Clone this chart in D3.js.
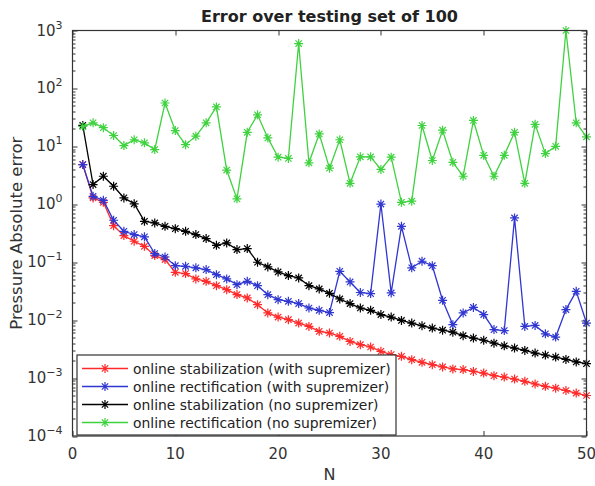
<!DOCTYPE html>
<html>
<head>
<meta charset="utf-8">
<script src="https://cdn.jsdelivr.net/npm/d3@7"></script>
<style>
  body { margin: 0; background: #fff; }
  svg { display: block; font-family: "DejaVu Sans", sans-serif; }
</style>
</head>
<body>
<div id="chart"></div>
<script>
const WIDTH = 595
const HEIGHT = 486

// values, N = 1..50
const N = d3.range(1, 51)

const stabWith = [4.85, 1.29, 1.08, 0.428, 0.288, 0.23, 0.188, 0.13, 0.111, 0.067,
    0.0636, 0.0514, 0.0468, 0.0394, 0.0336, 0.0276, 0.0242, 0.0185, 0.0133, 0.0113,
    0.0102, 0.0089, 0.0078, 0.0064, 0.006, 0.00525, 0.0043, 0.00377, 0.00344, 0.00289,
    0.00254, 0.00237, 0.00208, 0.00187, 0.0017, 0.00156, 0.00144, 0.0014, 0.0013, 0.00122,
    0.0011, 0.00104, 0.00096, 0.00088, 0.00079, 0.00072, 0.00067, 0.00061, 0.00055, 0.0005]

const rectWith = [4.85, 1.37, 1.17, 0.53, 0.342, 0.3, 0.274, 0.141, 0.123, 0.087,
    0.085, 0.08, 0.0745, 0.061, 0.0514, 0.041, 0.0468, 0.0394, 0.0275, 0.0226,
    0.0211, 0.0193, 0.0162, 0.0148, 0.0135, 0.0697, 0.0456, 0.03, 0.0287, 1.01,
    0.0295, 0.417, 0.08, 0.104, 0.087, 0.022, 0.00835, 0.0133, 0.0166, 0.0125,
    0.00686, 0.0066, 0.582, 0.0078, 0.0081, 0.0058, 0.0051, 0.0152, 0.0314, 0.0089]

const stabNo = [23, 2.19, 3.05, 2.05, 1.29, 1.02, 0.508, 0.477, 0.417, 0.38,
    0.342, 0.3, 0.256, 0.196, 0.215, 0.165, 0.172, 0.0998, 0.083, 0.068,
    0.0587, 0.0535, 0.0394, 0.0346, 0.029, 0.0232, 0.0193, 0.0162, 0.0148, 0.0125,
    0.0113, 0.0099, 0.0089, 0.008, 0.0073, 0.0067, 0.0062, 0.0054, 0.0049, 0.0045,
    0.004, 0.0036, 0.0033, 0.003, 0.0027, 0.0025, 0.0023, 0.0021, 0.0019, 0.00177]

const rectNo = [22, 25.5, 21, 15.4, 10.3, 13, 11.5, 8.8, 56, 18.7,
    10.7, 15, 25.5, 48, 3.9, 1.24, 17.5, 35, 14, 6.5,
    6.2, 595, 5.2, 16.4, 4.2, 13, 2.3, 6.6, 6.6, 4.0,
    6.5, 1.08, 1.13, 22.9, 5.7, 19, 5.3, 3.05, 28, 7.0,
    3.05, 7, 17.5, 2.3, 24, 7.5, 10, 1000, 25.5, 14.6]

const seriesNames = [
    "online stabilization (with supremizer)",
    "online rectification (with supremizer)",
    "online stabilization (no supremizer)",
    "online rectification (no supremizer)"
]
const seriesColors = ["#ff2a2a", "#3036d0", "#000000", "#3fd23f"]
const seriesValues = [stabWith, rectWith, stabNo, rectNo]

const xTicks = [0, 10, 20, 30, 40, 50]
const yExponents = [-4, -3, -2, -1, 0, 1, 2, 3]

const margin = {top: 30.5, right: 8.5, bottom: 50, left: 72.5}
const plotW = WIDTH - margin.left - margin.right
const plotH = HEIGHT - margin.top - margin.bottom

const svg = d3.select("#chart").append("svg")
    .attr("width", WIDTH)
    .attr("height", HEIGHT)

const x = d3.scaleLinear().domain([0, 50]).range([0, plotW])
const y = d3.scaleLog().domain([1e-4, 1e3]).range([plotH, 0])

const g = svg.append("g")
    .attr("transform", `translate(${margin.left},${margin.top})`)

// ticks, inward on all four sides
const minorVals = []
yExponents.slice(0, -1).forEach(e => {
    for (let k = 2; k <= 9; k++) minorVals.push(k * Math.pow(10, e))
})

const tickG = g.append("g").attr("stroke", "#333").attr("stroke-width", 1)
yExponents.forEach(e => {
    const yy = Math.round(y(Math.pow(10, e))) + 0.5
    tickG.append("line").attr("x1", 0).attr("x2", 5).attr("y1", yy).attr("y2", yy)
    tickG.append("line").attr("x1", plotW).attr("x2", plotW - 5).attr("y1", yy).attr("y2", yy)
})
minorVals.forEach(v => {
    const yy = Math.round(y(v)) + 0.5
    tickG.append("line").attr("x1", 0).attr("x2", 3).attr("y1", yy).attr("y2", yy)
    tickG.append("line").attr("x1", plotW).attr("x2", plotW - 3).attr("y1", yy).attr("y2", yy)
})
xTicks.forEach(t => {
    const xx = Math.round(x(t)) + 0.5
    tickG.append("line").attr("x1", xx).attr("x2", xx).attr("y1", plotH).attr("y2", plotH - 5)
    tickG.append("line").attr("x1", xx).attr("x2", xx).attr("y1", 0).attr("y2", 5)
})

// tick labels
const yLab = g.append("g")
    .attr("font-size", 15)
    .attr("fill", "#333")
    .attr("text-anchor", "end")
yExponents.forEach(e => {
    const t = yLab.append("text")
        .attr("x", -10)
        .attr("y", y(Math.pow(10, e)) + 5)
    t.append("tspan").text("10")
    t.append("tspan")
        .attr("dy", -7)
        .attr("font-size", 11)
        .text(e < 0 ? "\u2212" + Math.abs(e) : e)
})

g.append("g")
    .attr("font-size", 15)
    .attr("fill", "#333")
    .attr("text-anchor", "middle")
    .selectAll("text")
    .data(xTicks)
    .join("text")
    .attr("x", d => x(d))
    .attr("y", plotH + 23)
    .text(d => d)

// series
const line = d3.line()
    .x((d, i) => x(N[i]))
    .y(d => y(d))

const starPath = r => {
    const d = r * 0.7071
    return `M${-r},0L${r},0M0,${-r}L0,${r}M${-d},${-d}L${d},${d}M${-d},${d}L${d},${-d}`
}

const plot = g.append("g")
seriesValues.forEach((vals, si) => {
    const sg = plot.append("g")
    sg.append("path")
        .datum(vals)
        .attr("fill", "none")
        .attr("stroke", seriesColors[si])
        .attr("stroke-width", 1.3)
        .attr("d", line)
    sg.selectAll(".mk")
        .data(vals)
        .join("path")
        .attr("class", "mk")
        .attr("transform", (d, i) => `translate(${x(N[i])},${y(d)})`)
        .attr("d", starPath(4.5))
        .attr("fill", "none")
        .attr("stroke", seriesColors[si])
        .attr("stroke-width", 1.2)
})

// axes box
g.append("rect")
    .attr("x", 0).attr("y", 0)
    .attr("width", plotW).attr("height", plotH)
    .attr("fill", "none")
    .attr("stroke", "#333")
    .attr("stroke-width", 1.2)

// legend
const legend = g.append("g").attr("transform", "translate(4.5,324.5)")
legend.append("rect")
    .attr("width", 319)
    .attr("height", 80)
    .attr("fill", "#fff")
    .attr("stroke", "#333")
    .attr("stroke-width", 1.2)

const items = legend.selectAll(".item")
    .data(seriesNames)
    .join("g")
    .attr("class", "item")
    .attr("transform", (d, i) => `translate(0,${13.5 + i * 18})`)

items.append("line")
    .attr("x1", 5).attr("x2", 51)
    .attr("stroke", (d, i) => seriesColors[i])
    .attr("stroke-width", 1.3)
items.append("path")
    .attr("transform", "translate(28,0)")
    .attr("d", starPath(4.5))
    .attr("stroke", (d, i) => seriesColors[i])
    .attr("stroke-width", 1.2)
items.append("text")
    .attr("x", 56)
    .attr("y", 5)
    .attr("font-size", 13.9)
    .attr("fill", "#222")
    .text(d => d)

// title and axis labels
svg.append("text")
    .attr("x", margin.left + plotW / 2)
    .attr("y", 22)
    .attr("text-anchor", "middle")
    .attr("font-size", 16)
    .attr("font-weight", "bold")
    .attr("fill", "#222")
    .text("Error over testing set of 100")

svg.append("text")
    .attr("x", margin.left + plotW / 2)
    .attr("y", 480)
    .attr("text-anchor", "middle")
    .attr("font-size", 16)
    .attr("fill", "#333")
    .text("N")

svg.append("text")
    .attr("transform", `translate(22,${margin.top + plotH / 2}) rotate(-90)`)
    .attr("text-anchor", "middle")
    .attr("font-size", 16.5)
    .attr("fill", "#333")
    .text("Pressure Absolute error")
</script>
</body>
</html>
